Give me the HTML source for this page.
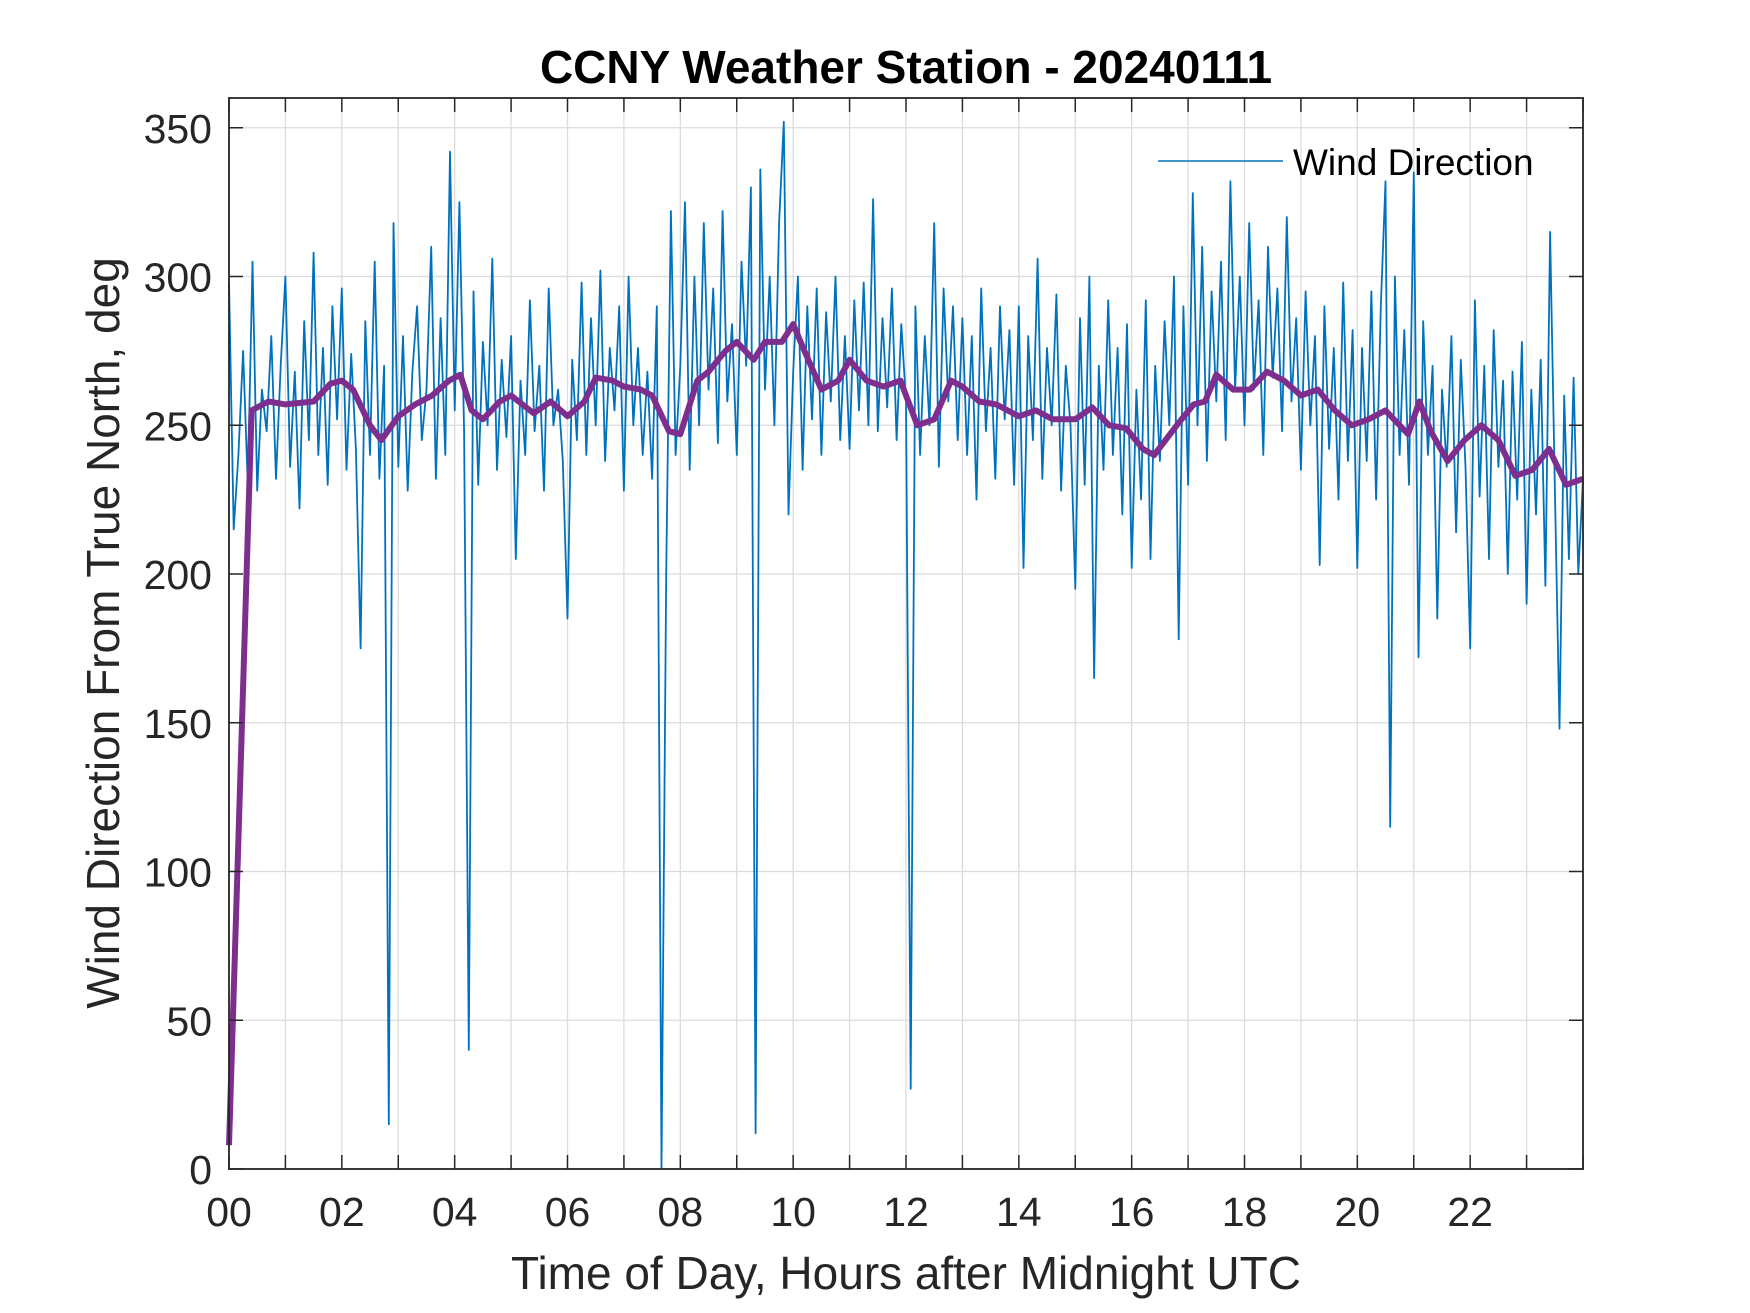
<!DOCTYPE html>
<html><head><meta charset="utf-8"><style>
html,body{margin:0;padding:0;background:#fff;}
svg{display:block;font-family:"Liberation Sans",Arial,sans-serif;}
</style></head><body>
<svg id="chart" width="1750" height="1313" viewBox="0 0 1750 1313" xmlns="http://www.w3.org/2000/svg">
<rect width="1750" height="1313" fill="#fff"/>
<g id="grid"></g>
<g id="series"></g>
<g id="axes"></g>
<text x="906" y="83" text-anchor="middle" font-size="46" font-weight="bold" fill="#000">CCNY Weather Station - 20240111</text>
<text x="906" y="1289" text-anchor="middle" font-size="46" fill="#262626">Time of Day, Hours after Midnight UTC</text>
<text transform="translate(119,633) rotate(-90)" text-anchor="middle" font-size="46" fill="#262626">Wind Direction From True North, deg</text>
<g>
<line x1="1158" y1="161" x2="1283" y2="161" stroke="#0072BD" stroke-width="1.6"/>
<text x="1293" y="175" font-size="37" fill="#000">Wind Direction</text>
</g>
</svg>
<script>
const xTicks = [0,1,2,3,4,5,6,7,8,9,10,11,12,13,14,15,16,17,18,19,20,21,22,23,24];
const xTickLabels = ["00","02","04","06","08","10","12","14","16","18","20","22"];
const yTicks = [0,50,100,150,200,250,300,350];
const windDir = [
298,215,240,275,230,305,228,262,248,280,232,270,
300,236,268,222,285,245,308,240,276,230,290,252,
296,235,274,242,175,285,240,305,232,270,15,318,
236,280,228,268,290,245,262,310,232,286,240,342,
255,325,248,40,295,230,278,250,306,235,272,246,
280,205,265,240,292,248,270,228,296,250,262,238,
185,272,245,298,240,286,250,302,238,276,255,290,
228,300,250,276,240,268,232,290,0,200,322,240,
270,325,235,300,250,318,262,296,244,322,258,284,
240,305,270,330,12,336,262,300,250,318,352,220,
268,300,235,290,252,296,240,288,258,300,245,280,
242,292,255,298,250,326,248,286,256,296,245,284,
258,27,290,240,280,250,318,236,296,258,290,245,
286,240,280,225,296,248,276,232,290,252,282,230,
290,202,280,245,306,232,276,250,294,228,270,250,
195,286,230,300,165,270,235,292,240,276,220,284,
202,262,225,292,205,270,238,285,250,300,178,290,
230,328,250,310,238,295,258,305,245,332,262,300,
250,318,262,292,240,310,266,296,248,320,258,286,
235,295,250,280,203,290,242,276,225,298,238,282,
202,276,238,295,225,290,332,115,300,240,282,230,
335,172,285,240,270,185,262,236,280,214,272,236,
175,292,226,270,205,282,236,265,200,268,225,278,
190,262,220,272,196,315,230,148,260,205,266,200,232];
const avgHours = [0,0.4,0.7,1,1.5,1.8,2.0,2.2,2.5,2.7,3,3.3,3.6,3.9,4.1,4.3,4.5,4.8,5,5.4,5.7,6,6.3,6.5,6.8,7,7.3,7.5,7.8,8,8.3,8.5,8.8,9,9.3,9.5,9.8,10,10.2,10.5,10.8,11,11.3,11.6,11.9,12.2,12.5,12.8,13,13.3,13.6,14,14.3,14.6,15,15.3,15.6,15.9,16.2,16.4,16.8,17.1,17.3,17.5,17.8,18.1,18.4,18.7,19,19.3,19.6,19.9,20.2,20.5,20.9,21.1,21.3,21.6,21.9,22.2,22.5,22.8,23.1,23.4,23.7,24];
const avgDir = [8,255,258,257,258,264,265,262,250,245,253,257,260,265,267,255,252,258,260,254,258,253,258,266,265,263,262,260,248,247,265,268,275,278,272,278,278,284,275,262,265,272,265,263,265,250,252,265,263,258,257,253,255,252,252,256,250,249,242,240,250,257,258,267,262,262,268,265,260,262,255,250,252,255,247,258,248,238,245,250,245,233,235,242,230,232];

const L=229,R=1583,T=98,B=1169;
const xS=h=>L+(h/24)*(R-L);
const yS=v=>B-(v/360)*(B-T);
const NS="http://www.w3.org/2000/svg";
function mk(tag,attrs,parent){const e=document.createElementNS(NS,tag);for(const k in attrs)e.setAttribute(k,attrs[k]);parent.appendChild(e);return e;}
const grid=document.getElementById('grid'),axes=document.getElementById('axes'),series=document.getElementById('series');
xTicks.forEach(h=>{
  const g=mk('line',{x1:xS(h),x2:xS(h),y1:T,y2:B,stroke:'#dcdcdc','stroke-width':1.3},grid);
  
  
  const t1=mk('line',{x1:xS(h),x2:xS(h),y1:B,y2:B-14,stroke:'#262626','stroke-width':1.5},axes);
  
  
  const t2=mk('line',{x1:xS(h),x2:xS(h),y1:T,y2:T+14,stroke:'#262626','stroke-width':1.5},axes);
  
  
});
xTickLabels.forEach((lab,i)=>{
  const t=mk('text',{x:xS(i*2),y:B+57,'text-anchor':'middle','font-size':41,fill:'#262626'},axes);
  t.textContent=lab;
  
  
});
yTicks.forEach(v=>{
  const g=mk('line',{x1:L,x2:R,y1:yS(v),y2:yS(v),stroke:'#dcdcdc','stroke-width':1.3},grid);
  
  
  const t1=mk('line',{x1:L,x2:L+14,y1:yS(v),y2:yS(v),stroke:'#262626','stroke-width':1.5},axes);
  
  
  const t2=mk('line',{x1:R,x2:R-14,y1:yS(v),y2:yS(v),stroke:'#262626','stroke-width':1.5},axes);
  
  
  const t=mk('text',{x:L-17,y:yS(v)+15,'text-anchor':'end','font-size':41,fill:'#262626'},axes);
  t.textContent=String(v);
  
  
});
const box=mk('rect',{x:L,y:T,width:R-L,height:B-T,fill:'none',stroke:'#262626','stroke-width':1.8},axes);


const n=windDir.length;
const p1=windDir.map((v,i)=>xS(i*24/(n-1)).toFixed(1)+','+yS(v).toFixed(1)).join(' ');
const wl=mk('polyline',{points:p1,fill:'none',stroke:'#0072BD','stroke-width':1.8,'stroke-linejoin':'round'},series);


const p2=avgDir.map((v,i)=>xS(avgHours[i]).toFixed(1)+','+yS(v).toFixed(1)).join(' ');
const al=mk('polyline',{points:p2,fill:'none',stroke:'#7E2F8E','stroke-width':6,'stroke-linejoin':'round'},series);


</script>
</body></html>
